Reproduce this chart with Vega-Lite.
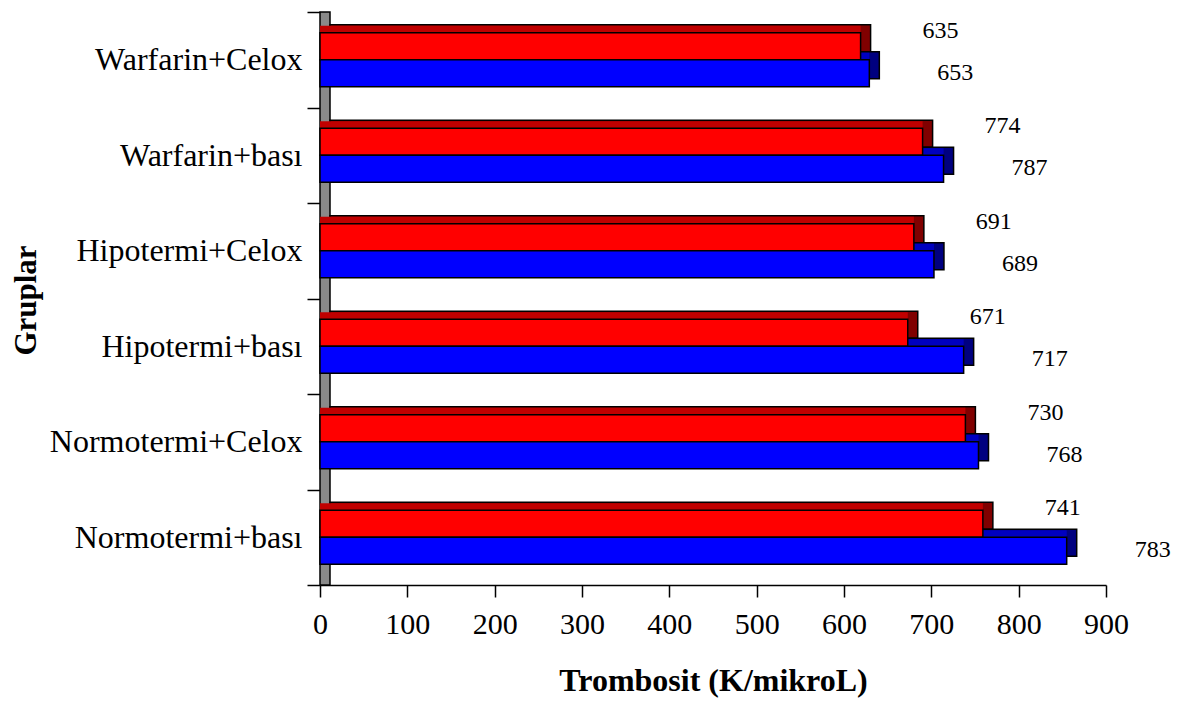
{
  "$schema": "https://vega.github.io/schema/vega-lite/v6.json",
  "width": 786,
  "height": 573,
  "autosize": "none",
  "padding": {"left": 320, "top": 12, "right": 77, "bottom": 128},
  "background": "white",
  "config": {
    "view": {"stroke": null},
    "font": "Liberation Serif",
    "axis": {"labelFont": "Liberation Serif", "titleFont": "Liberation Serif", "labelColor": "black", "titleColor": "black", "tickColor": "black", "domainColor": "black", "grid": false}
  },
  "data": {
    "values": [
      {"grup": "Warfarin+Celox", "seri": "seri1", "deger": 619, "etiket": "635"},
      {"grup": "Warfarin+Celox", "seri": "seri2", "deger": 629, "etiket": "653"},
      {"grup": "Warfarin+bası", "seri": "seri1", "deger": 690, "etiket": "774"},
      {"grup": "Warfarin+bası", "seri": "seri2", "deger": 714, "etiket": "787"},
      {"grup": "Hipotermi+Celox", "seri": "seri1", "deger": 680, "etiket": "691"},
      {"grup": "Hipotermi+Celox", "seri": "seri2", "deger": 703, "etiket": "689"},
      {"grup": "Hipotermi+bası", "seri": "seri1", "deger": 673, "etiket": "671"},
      {"grup": "Hipotermi+bası", "seri": "seri2", "deger": 737, "etiket": "717"},
      {"grup": "Normotermi+Celox", "seri": "seri1", "deger": 739, "etiket": "730"},
      {"grup": "Normotermi+Celox", "seri": "seri2", "deger": 754, "etiket": "768"},
      {"grup": "Normotermi+bası", "seri": "seri1", "deger": 759, "etiket": "741"},
      {"grup": "Normotermi+bası", "seri": "seri2", "deger": 855, "etiket": "783"}
    ]
  },
  "layer": [
    {
      "transform": [{"aggregate": [{"op": "count", "as": "n"}]}],
      "mark": {"type": "rect", "fill": "#8a8a8a", "stroke": "black", "strokeWidth": 1.5, "x2Offset": 10},
      "encoding": {
        "x": {"datum": 0, "type": "quantitative", "scale": {"domain": [0, 900], "nice": false}, "axis": {"values": [0,100,200,300,400,500,600,700,800,900], "tickSize": 12, "tickWidth": 1.5, "domainWidth": 1.5, "labelFontSize": 30, "labelBaseline": "alphabetic", "labelPadding": 36, "labelFlush": false, "title": "Trombosit (K/mikroL)", "titleFontSize": 32, "titleFontWeight": "bold", "titleBaseline": "alphabetic", "titleY": 105}},
        "x2": {"datum": 0}
      }
    },
    {
      "transform": [{"filter": "datum.seri === 'seri1'"}],
      "mark": {"type": "bar", "height": 27, "yOffset": -21.5, "xOffset": 10, "x2Offset": 10, "fill": "#800000", "stroke": "black", "strokeWidth": 1.5},
      "encoding": {
        "y": {"field": "grup", "type": "nominal", "sort": ["Warfarin+Celox", "Warfarin+bası", "Hipotermi+Celox", "Hipotermi+bası", "Normotermi+Celox", "Normotermi+bası"], "scale": {"paddingInner": 0, "paddingOuter": 0}, "axis": {"tickBand": "extent", "tickSize": 13, "tickWidth": 1.5, "domain": false, "labelFontSize": 32, "labelLimit": 0, "labelPadding": 5, "labelBaseline": "middle", "title": "Gruplar", "titleFontSize": 31, "titleFontWeight": "bold", "titleAngle": 270, "titleBaseline": "middle", "titleAlign": "center", "titleX": -294, "titleY": 288}},
        "x": {"field": "deger", "type": "quantitative"}
      }
    },
    {
      "transform": [{"filter": "datum.seri === 'seri1'"}],
      "mark": {"type": "bar", "height": 7, "yOffset": -30.5, "xOffset": 0, "x2Offset": 11, "fill": "#C00000"},
      "encoding": {
        "y": {"field": "grup", "type": "nominal", "sort": ["Warfarin+Celox", "Warfarin+bası", "Hipotermi+Celox", "Hipotermi+bası", "Normotermi+Celox", "Normotermi+bası"]},
        "x": {"field": "deger", "type": "quantitative"}
      }
    },
    {
      "transform": [{"filter": "datum.seri === 'seri2'"}],
      "mark": {"type": "bar", "height": 27, "yOffset": 5.5, "xOffset": 10, "x2Offset": 10, "fill": "#000080", "stroke": "black", "strokeWidth": 1.5},
      "encoding": {
        "y": {"field": "grup", "type": "nominal", "sort": ["Warfarin+Celox", "Warfarin+bası", "Hipotermi+Celox", "Hipotermi+bası", "Normotermi+Celox", "Normotermi+bası"]},
        "x": {"field": "deger", "type": "quantitative"}
      }
    },
    {
      "transform": [{"filter": "datum.seri === 'seri2'"}],
      "mark": {"type": "bar", "height": 7, "yOffset": -3.5, "xOffset": 0, "x2Offset": 11, "fill": "#0000C0"},
      "encoding": {
        "y": {"field": "grup", "type": "nominal", "sort": ["Warfarin+Celox", "Warfarin+bası", "Hipotermi+Celox", "Hipotermi+bası", "Normotermi+Celox", "Normotermi+bası"]},
        "x": {"field": "deger", "type": "quantitative"}
      }
    },
    {
      "transform": [{"filter": "datum.seri === 'seri1'"}],
      "mark": {"type": "bar", "height": 27, "yOffset": -13.5, "fill": "#FF0000", "stroke": "black", "strokeWidth": 1.5},
      "encoding": {
        "y": {"field": "grup", "type": "nominal", "sort": ["Warfarin+Celox", "Warfarin+bası", "Hipotermi+Celox", "Hipotermi+bası", "Normotermi+Celox", "Normotermi+bası"]},
        "x": {"field": "deger", "type": "quantitative"}
      }
    },
    {
      "transform": [{"filter": "datum.seri === 'seri2'"}],
      "mark": {"type": "bar", "height": 27, "yOffset": 13.5, "fill": "#0000FF", "stroke": "black", "strokeWidth": 1.5},
      "encoding": {
        "y": {"field": "grup", "type": "nominal", "sort": ["Warfarin+Celox", "Warfarin+bası", "Hipotermi+Celox", "Hipotermi+bası", "Normotermi+Celox", "Normotermi+bası"]},
        "x": {"field": "deger", "type": "quantitative"}
      }
    },
    {
      "transform": [{"filter": "datum.seri === 'seri1'"}],
      "mark": {"type": "text", "dx": 80, "dy": -22, "align": "center", "baseline": "alphabetic", "fontSize": 24, "font": "Liberation Serif", "color": "black"},
      "encoding": {
        "y": {"field": "grup", "type": "nominal", "sort": ["Warfarin+Celox", "Warfarin+bası", "Hipotermi+Celox", "Hipotermi+bası", "Normotermi+Celox", "Normotermi+bası"]},
        "x": {"field": "deger", "type": "quantitative"},
        "text": {"field": "etiket"}
      }
    },
    {
      "transform": [{"filter": "datum.seri === 'seri2'"}],
      "mark": {"type": "text", "dx": 86, "dy": 20, "align": "center", "baseline": "alphabetic", "fontSize": 24, "font": "Liberation Serif", "color": "black"},
      "encoding": {
        "y": {"field": "grup", "type": "nominal", "sort": ["Warfarin+Celox", "Warfarin+bası", "Hipotermi+Celox", "Hipotermi+bası", "Normotermi+Celox", "Normotermi+bası"]},
        "x": {"field": "deger", "type": "quantitative"},
        "text": {"field": "etiket"}
      }
    }
  ]
}
